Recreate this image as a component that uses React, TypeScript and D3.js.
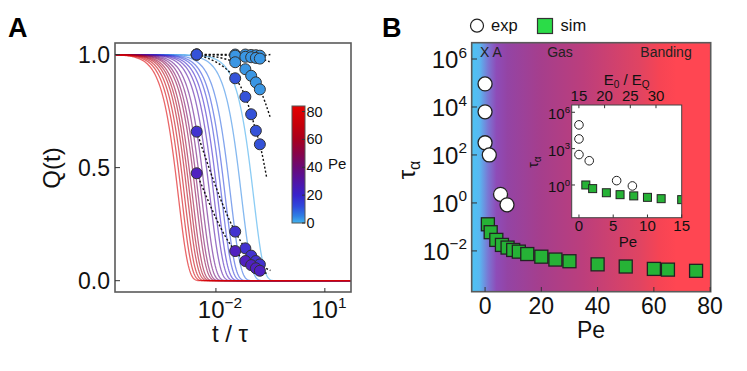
import React from 'react';
import * as d3 from 'd3';

const FONT = '"Liberation Sans", Arial, Helvetica, sans-serif';

// ---- panel A: measured Q(t), log10(t / tau) sample times
const expLogT = [-2.53, -1.47, -1.19, -1.03, -0.9, -0.79];
const expPe = [0, 0, 0, 1.5, 5.5, 7.8];
const expQ = [
  [1.0, 1.0, 1.0, 0.998, 0.997, 0.995],
  [1.0, 0.995, 0.99, 0.988, 0.985, 0.982],
  [1.0, 0.966, 0.935, 0.906, 0.877, 0.846],
  [1.0, 0.895, 0.813, 0.736, 0.663, 0.603],
  [0.659, 0.217, 0.143, 0.111, 0.087, 0.072],
  [0.475, 0.131, 0.087, 0.069, 0.055, 0.044],
];
// where each dashed fit ends (log10 t, Q)
const fitEndLogT = [-0.5, -0.52, -0.51, -0.6, -0.5, -0.55];
const fitEndQ = [1.0, 0.968, 0.725, 0.453, 0.045, 0.03];

// simulated relaxation curves: Pe and log10 t where Q = 0.5
const curvePe = [1, 4, 8, 12, 15, 20, 25, 30, 35, 40, 45, 50, 55, 60, 65, 70, 75, 80];
const curveLogT50 = [-1.06, -1.39, -1.69, -1.84, -1.94, -2.05, -2.15, -2.26, -2.39, -2.49, -2.58, -2.65, -2.74, -2.81, -2.88, -2.96, -3.04, -3.13];
const curveBeta = 1.6;

// ---- panel B: tau_alpha vs Pe
const expLogTau = [4.96, 3.8, 2.51, 2.0, 0.36, -0.08];
const simPe = [1, 2, 4, 6, 8, 10, 12, 15, 20, 25, 30, 40, 50, 60, 65, 75];
const simLogTau = [-0.89, -1.22, -1.54, -1.75, -1.86, -1.96, -2.03, -2.13, -2.24, -2.36, -2.43, -2.56, -2.65, -2.75, -2.78, -2.83];
const insetSimPe = [1, 2, 4, 6, 8, 10, 12, 15];
const insetSimLogTau = [0, -0.3, -0.64, -0.8, -0.9, -1.02, -1.13, -1.21];

const bTicks = [-2, 0, 2, 4, 6];
const bxTicks = [0, 20, 40, 60, 80];
const insetYTicks = [0, 3, 6];
const insetXTicks = [0, 5, 10, 15];
const insetTopTicks = [15, 20, 25, 30];

const cmap = d3.scaleLinear<string>()
  .domain([0, 5, 12, 20, 30, 40, 50, 60, 70, 84])
  .range(['#42b4ee', '#2f80e4', '#2f48dc', '#3822cc', '#5214a4', '#6a0a76', '#880448', '#a8001e', '#c4000a', '#e60000']);

const pointColor = d3.scaleLinear<string>()
  .domain([0, 1.5, 5.5, 7.8])
  .range(['#3a96e4', '#3452d8', '#4232d0', '#5020c0']);

// background of panel B, stops in Pe units
const bgPe = [-5, -2, 1, 4, 8, 20, 35, 55, 62, 68, 81];
const bgCol = ['#4cc4f4', '#58b8f0', '#7a78d4', '#8e4cb8', '#9444a4', '#a63e8c', '#bc3e7c', '#e04462', '#f64454', '#ff4652', '#ff4652'];

function Pow({ x, y, base, exp, size, anchor = 'middle' }: any) {
  return (
    <text x={x} y={y} fontSize={size} textAnchor={anchor} fill="#111">
      {base}
      <tspan dy={-size * 0.42} fontSize={size * 0.64}>{exp}</tspan>
    </text>
  );
}

export default function App() {
  // panel A
  const ax = d3.scaleLog().domain([10 ** -4.78, 10 ** 1.72]).range([115, 351]);
  const ay = d3.scaleLinear().domain([-0.05, 1.051]).range([292, 43]);
  const lineA = d3.line<[number, number]>().x(d => ax(10 ** d[0])).y(d => ay(d[1]));
  const fitLine = d3.line<[number, number]>().x(d => ax(10 ** d[0])).y(d => ay(d[1])).curve(d3.curveMonotoneX);
  const grid = d3.range(-4.9, 1.8, 0.02);

  const cbY = d3.scaleLinear().domain([0, 84]).range([223, 106]);

  // panel B
  const bx = d3.scaleLinear().domain([-4.75, 80.2]).range([471.7, 710.7]);
  const by = d3.scaleLog().domain([10 ** -3.7, 10 ** 6.68]).range([291.7, 42.7]);
  const ix = d3.scaleLinear().domain([-1.06, 15]).range([571.7, 681.7]);
  const ixTop = d3.scaleLinear().domain([13.6, 35]).range([571.7, 681.7]);
  const iy = d3.scaleLog().domain([10 ** -2.7, 10 ** 6.6]).range([217.7, 105]);

  const frame = '#5a5a5a';

  return (
    <svg width={747} height={371} style={{ display: 'block', position: 'absolute', left: 0, top: 0 }} fontFamily={FONT}>
      <defs>
        <clipPath id="clipA"><rect x={115} y={43} width={236} height={249} /></clipPath>
        <clipPath id="clipI"><rect x={571.7} y={105} width={110} height={112.7} /></clipPath>
        <linearGradient id="cbar" x1="0" y1="1" x2="0" y2="0">
          {cmap.domain().map((d, i) => (
            <stop key={i} offset={d / 84} stopColor={cmap.range()[i]} />
          ))}
        </linearGradient>
        <linearGradient id="bgB" x1="0" y1="0" x2="1" y2="0">
          {bgPe.map((p, i) => (
            <stop key={i} offset={Math.max(0, Math.min(1, (bx(p) - 471.7) / 239))} stopColor={bgCol[i]} />
          ))}
        </linearGradient>
      </defs>

      {/* ---------- panel A ---------- */}
      <text x={8} y={37} fontSize={27} fontWeight="bold">A</text>
      <rect x={115} y={43} width={236} height={249} fill="#fff" />
      <g clipPath="url(#clipA)">
        {curvePe.map((pe, i) => {
          const pts: [number, number][] = grid.map(lt => [lt, Math.exp(-Math.LN2 * 10 ** ((lt - curveLogT50[i]) * curveBeta))]);
          return <path key={i} d={lineA(pts) || ''} fill="none" stroke={cmap(pe)} strokeOpacity={0.6} strokeWidth={1.3} />;
        })}
        {expQ.map((q, i) => {
          const pts: [number, number][] = expLogT.map((t, j) => [t, q[j]]);
          pts.push([fitEndLogT[i], fitEndQ[i]]);
          return <path key={i} d={fitLine(pts) || ''} fill="none" stroke="#111" strokeWidth={1.4} strokeDasharray="2,2" />;
        })}
        {expQ.map((q, i) => expLogT.map((t, j) => (
          <circle key={i + '-' + j} cx={ax(10 ** t)} cy={ay(q[j])} r={5.5}
            fill={pointColor(expPe[i])} stroke="#333" strokeWidth={1} />
        )))}
      </g>
      <rect x={115} y={43} width={236} height={249} fill="none" stroke={frame} strokeWidth={1.6} />
      {[0, 0.5, 1].map(v => (
        <g key={v}>
          <line x1={115} x2={120} y1={ay(v)} y2={ay(v)} stroke="#333" />
          <text x={110} y={ay(v) + 8.3} fontSize={23} textAnchor="end" fill="#111">{v.toFixed(1)}</text>
        </g>
      ))}
      {[-2, 1].map(e => (
        <g key={e}>
          <line x1={ax(10 ** e)} x2={ax(10 ** e)} y1={292} y2={288} stroke="#333" />
          <Pow x={ax(10 ** e) + 4} y={318} base="10" exp={e < 0 ? '\u2212' + Math.abs(e) : String(e)} size={24} />
        </g>
      ))}
      <text x={230} y={342} fontSize={24} textAnchor="middle" fill="#111">t / τ</text>
      <text transform="translate(60,168) rotate(-90)" fontSize={24} textAnchor="middle" fill="#111">Q(t)</text>

      {/* colorbar */}
      <rect x={292} y={106} width={13} height={117} fill="url(#cbar)" stroke="#555" strokeWidth={1} />
      {[0, 20, 40, 60, 80].map(v => (
        <g key={v}>
          <line x1={305} x2={302} y1={cbY(v)} y2={cbY(v)} stroke="#333" />
          <text x={306.5} y={cbY(v) + 5} fontSize={14.5} fill="#111">{v}</text>
        </g>
      ))}
      <text x={328} y={169} fontSize={15} fill="#111">Pe</text>

      {/* ---------- panel B ---------- */}
      <text x={382} y={37} fontSize={27} fontWeight="bold">B</text>
      <circle cx={477} cy={25.7} r={6.5} fill="#fff" stroke="#222" strokeWidth={1.2} />
      <text x={491} y={30.5} fontSize={16.5} fill="#111">exp</text>
      <rect x={537.5} y={18.5} width={15} height={15} fill="#2bdc48" stroke="#333" strokeWidth={1.2} />
      <text x={560.5} y={30.5} fontSize={16.5} fill="#111">sim</text>

      <rect x={471.7} y={42.7} width={239} height={249} fill="url(#bgB)" />
      <text x={480} y={56.7} fontSize={14} fill="#222">X A</text>
      <text x={560} y={56.7} fontSize={14} textAnchor="middle" fill="#222">Gas</text>
      <text x={666} y={56.7} fontSize={14} textAnchor="middle" fill="#222">Banding</text>

      {expLogTau.map((t, i) => (
        <circle key={i} cx={bx(expPe[i])} cy={by(10 ** t)} r={7} fill="#fff" stroke="#222" strokeWidth={1.3} />
      ))}
      {simLogTau.map((t, i) => (
        <rect key={i} x={bx(simPe[i]) - 6.5} y={by(10 ** t) - 6.5} width={13} height={13}
          fill="#26b236" stroke="#222" strokeWidth={1.3} />
      ))}

      <rect x={471.7} y={42.7} width={239} height={249} fill="none" stroke={frame} strokeWidth={1.6} />
      {bTicks.map(e => (
        <g key={e}>
          <line x1={471.7} x2={477} y1={by(10 ** e)} y2={by(10 ** e)} stroke="#333" />
          <Pow x={467} y={by(10 ** e) + 8.6} base="10" exp={e < 0 ? '\u2212' + Math.abs(e) : String(e)} size={24} anchor="end" />
        </g>
      ))}
      {bxTicks.map(v => (
        <g key={v}>
          <line x1={bx(v)} x2={bx(v)} y1={291.7} y2={287} stroke="#333" />
          <text x={bx(v)} y={314} fontSize={23} textAnchor="middle" fill="#111">{v}</text>
        </g>
      ))}
      <text x={591} y={338} fontSize={23} textAnchor="middle" fill="#111">Pe</text>
      <text transform="translate(415,170) rotate(-90)" fontSize={24} textAnchor="middle" fill="#111">
        τ<tspan dy={5} fontSize={16}>α</tspan>
      </text>

      {/* inset */}
      <rect x={571.7} y={105} width={110} height={112.7} fill="#fff" />
      <g clipPath="url(#clipI)">
        {expLogTau.map((t, i) => (
          <circle key={i} cx={ix(expPe[i])} cy={iy(10 ** t)} r={4.3} fill="#fff" stroke="#222" strokeWidth={1} />
        ))}
        {insetSimLogTau.map((t, i) => (
          <rect key={i} x={ix(insetSimPe[i]) - 4} y={iy(10 ** t) - 4} width={8} height={8}
            fill="#26b236" stroke="#222" strokeWidth={1} />
        ))}
      </g>
      <rect x={571.7} y={105} width={110} height={112.7} fill="none" stroke="#444" strokeWidth={1} />
      {insetYTicks.map(e => (
        <g key={e}>
          <line x1={571.7} x2={575} y1={iy(10 ** e)} y2={iy(10 ** e)} stroke="#333" />
          <Pow x={570} y={iy(10 ** e) + 7} base="10" exp={String(e)} size={15} anchor="end" />
        </g>
      ))}
      {insetXTicks.map(v => (
        <g key={v}>
          <line x1={ix(v)} x2={ix(v)} y1={217.7} y2={214.5} stroke="#333" />
          <text x={ix(v)} y={230.5} fontSize={15} textAnchor="middle" fill="#111">{v}</text>
        </g>
      ))}
      {insetTopTicks.map(v => (
        <g key={v}>
          <line x1={ixTop(v)} x2={ixTop(v)} y1={105} y2={108.2} stroke="#333" />
          <text x={ixTop(v)} y={100.5} fontSize={15} textAnchor="middle" fill="#111">{v}</text>
        </g>
      ))}
      <text x={628} y={247} fontSize={15} textAnchor="middle" fill="#111">Pe</text>
      <text x={626.7} y={85} fontSize={15} textAnchor="middle" fill="#111">
        E<tspan dy={3} fontSize={10}>0</tspan><tspan dy={-3}> / E</tspan><tspan dy={3} fontSize={10}>Q</tspan>
      </text>
      <text transform="translate(538,162) rotate(-90)" fontSize={14} textAnchor="middle" fill="#111">
        τ<tspan dy={3} fontSize={10}>α</tspan>
      </text>
    </svg>
  );
}
